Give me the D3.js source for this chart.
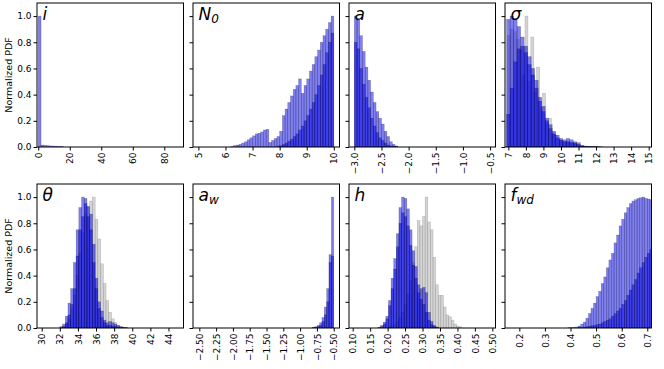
<!DOCTYPE html>
<html>
<head>
<meta charset="utf-8">
<script src="https://cdn.jsdelivr.net/npm/d3@7"></script>
<style>
body { margin: 0; background: #fff; }
text { font-family: "DejaVu Sans", sans-serif; }
</style>
</head>
<body>
<svg width="664" height="369"></svg>
<script>
// ---- data (bin start, bin width, normalized heights) ----
var yTicks = [0, 0.2, 0.4, 0.6, 0.8, 1.0];

// i
var iStart = 0, iStep = 1.76;
var iOuter = [1.0, 0.015, 0.012, 0.01, 0.008, 0.007, 0.006, 0.005, 0.004];
var iTicks = [0, 20, 40, 60, 80];

// N0
var n0Start = 6.2, n0Step = 0.1;
var n0Outer = [0.005, 0.01, 0.015, 0.02, 0.03, 0.04, 0.055, 0.07, 0.085, 0.1, 0.105, 0.115, 0.13, 0.135,
               0.035, 0.05, 0.065, 0.08, 0.12, 0.24, 0.29, 0.34, 0.39, 0.44, 0.47, 0.52,
               0.41, 0.47, 0.52, 0.58, 0.63, 0.69, 0.74, 0.8, 0.85, 0.9, 0.95, 1.0];
var n0Inner = [0, 0, 0, 0, 0, 0, 0, 0, 0, 0, 0, 0, 0, 0,
               0, 0, 0, 0.005, 0.01, 0.02, 0.03, 0.045, 0.06, 0.08, 0.1, 0.13,
               0.16, 0.2, 0.24, 0.29, 0.34, 0.4, 0.47, 0.55, 0.63, 0.72, 0.8, 0.87];
var n0Ticks = [5, 6, 7, 8, 9, 10];

// a
var aStart = -3.0, aStep = 0.05;
var aOuter = [1.0, 0.97, 0.85, 0.73, 0.61, 0.51, 0.42, 0.34, 0.27, 0.22, 0.175, 0.12, 0.08, 0.04, 0.02, 0.008];
var aInner = [0.8, 0.75, 0.6, 0.48, 0.38, 0.3, 0.22, 0.16, 0.11, 0.07, 0.05, 0.03, 0.015, 0.008, 0.004, 0.002];
var aTicks = [-3.0, -2.5, -2.0, -1.5, -1.0, -0.5];

// sigma
var sStart = 6.9, sStep = 0.2;
var sOuter = [0.975, 1.0, 0.98, 0.92, 0.84, 0.77, 0.69, 0.6, 0.51, 0.38, 0.31, 0.22, 0.17, 0.12, 0.09, 0.065,
              0.055, 0.065, 0.055, 0.04, 0.033, 0.01, 0.006, 0.004, 0.003, 0.002, 0.001];
var sInner = [0.25, 0.45, 0.65, 0.75, 0.77, 0.72, 0.63, 0.55, 0.45, 0.35, 0.27, 0.2, 0.14, 0.1, 0.07, 0.05,
              0.04, 0.04, 0.035, 0.03, 0.02, 0.008, 0.004, 0.002, 0.001, 0.001, 0];
var sGreyStart = 6.95, sGreyStep = 1 / 6;
var sGrey = [0.85, 0.9, 0.88, 0.82, 0.74, 0.55, 1.0, 0.5, 0.84, 0.42, 0.61, 0.3, 0.41, 0.18, 0.22, 0.1, 0.09, 0.06,
             0.05, 0.04, 0.04, 0.03, 0.03, 0.02, 0.015, 0.01, 0.008, 0.005, 0.004, 0.003, 0.002, 0.002, 0.001];
var sTicks = [7, 8, 9, 10, 11, 12, 13, 14, 15];

// theta
var tStart = 32.0, tStep = 0.3;
var tOuter = [0.01, 0.03, 0.09, 0.19, 0.3, 0.5, 0.75, 0.92, 1.0, 0.99, 0.93, 0.87, 0.64, 0.38, 0.2, 0.13,
              0.06, 0.04, 0.05, 0.04, 0.03, 0.02, 0.01, 0.005, 0.003];
var tInner = [0, 0.01, 0.04, 0.1, 0.18, 0.3, 0.55, 0.75, 0.85, 0.95, 0.85, 0.75, 0.5, 0.3, 0.15, 0.08,
              0.04, 0.02, 0.02, 0.015, 0.01, 0.005, 0.003, 0.001, 0];
var tGrey = [0.005, 0.01, 0.03, 0.07, 0.14, 0.25, 0.4, 0.57, 0.73, 0.87, 0.92, 0.97, 1.0, 0.83, 0.68, 0.49,
             0.34, 0.21, 0.12, 0.07, 0.04, 0.02, 0.01, 0.005, 0.003];
var tTicks = [30, 32, 34, 36, 38, 40, 42, 44];

// a_w
var awStart = -0.815, awStep = 0.035;
var awOuter = [0.004, 0.01, 0.02, 0.04, 0.08, 0.16, 0.3, 0.56, 1.0];
var awInner = [0.002, 0.005, 0.01, 0.02, 0.05, 0.1, 0.2, 0.5, 0.55];
var awTicks = [-2.5, -2.25, -2.0, -1.75, -1.5, -1.25, -1.0, -0.75, -0.5];

// h
var hStart = 0.1725, hStep = 0.0075;
var hOuter = [0.005, 0.02, 0.045, 0.09, 0.21, 0.38, 0.53, 0.72, 0.92, 1.0, 0.99, 0.91, 0.75, 0.59, 0.47, 0.33,
              0.3, 0.31, 0.27, 0.12, 0.05, 0.02, 0.008];
var hInner = [0.002, 0.01, 0.03, 0.07, 0.17, 0.3, 0.45, 0.62, 0.8, 0.88, 0.85, 0.78, 0.63, 0.48, 0.38, 0.27,
              0.22, 0.18, 0.12, 0.06, 0.025, 0.01, 0.004];
var hGreyStart = 0.2025, hGreyStep = 0.0075;
var hGrey = [0.008, 0.015, 0.03, 0.05, 0.08, 0.12, 0.18, 0.26, 0.36, 0.5, 0.62, 0.82, 0.78, 0.85, 1.0, 0.81,
             0.75, 0.54, 0.33, 0.25, 0.25, 0.16, 0.1, 0.085, 0.06, 0.03, 0.015, 0.008];
var hTicks = [0.10, 0.15, 0.20, 0.25, 0.30, 0.35, 0.40, 0.45, 0.50];

// f_wd
var fStart = 0.39, fStep = 0.01;
var fOuter = [0.002, 0.003, 0.005, 0.008, 0.015, 0.03, 0.045, 0.075, 0.11, 0.15, 0.19, 0.24, 0.28, 0.34, 0.39,
              0.46, 0.52, 0.57, 0.65, 0.71, 0.78, 0.83, 0.88, 0.92, 0.95, 0.97, 0.98, 0.99, 0.995, 1.0, 0.99, 0.985, 0.98];
var fInner = [0, 0, 0, 0, 0.002, 0.004, 0.006, 0.01, 0.013, 0.017, 0.02, 0.025, 0.03, 0.04, 0.05,
              0.06, 0.07, 0.09, 0.11, 0.13, 0.15, 0.18, 0.21, 0.25, 0.29, 0.33, 0.37, 0.42, 0.46, 0.5, 0.54, 0.57, 0.6];
var fTicks = [0.2, 0.3, 0.4, 0.5, 0.6, 0.7];

// ---- layout ----
var svg = d3.select("svg");
var colX = [37, 193, 349, 505], panelW = 146.5;
var rowY = [[3, 147], [184, 328]];

var panels = [
  { title: ["i", ""], row: 0, col: 0, domain: [-0.8, 92.2], ticks: iTicks, fmt: d3.format("d"),
    series: [{ start: iStart, step: iStep, values: iOuter, kind: "blue" }] },
  { title: ["N", "0"], row: 0, col: 1, domain: [4.8, 10.21], ticks: n0Ticks, fmt: d3.format("d"),
    series: [{ start: n0Start, step: n0Step, values: n0Outer, kind: "blue" },
             { start: n0Start, step: n0Step, values: n0Inner, kind: "blue" }] },
  { title: ["a", ""], row: 0, col: 2, domain: [-3.098, -0.4], ticks: aTicks, fmt: d3.format(".1f"),
    series: [{ start: aStart, step: aStep, values: aOuter, kind: "blue" },
             { start: aStart, step: aStep, values: aInner, kind: "blue" }] },
  { title: ["σ", ""], row: 0, col: 3, domain: [6.81, 15.16], ticks: sTicks, fmt: d3.format("d"),
    series: [{ start: sGreyStart, step: sGreyStep, values: sGrey, kind: "grey" },
             { start: sStart, step: sStep, values: sOuter, kind: "blue" },
             { start: sStart, step: sStep, values: sInner, kind: "blue" }] },
  { title: ["θ", ""], row: 1, col: 0, domain: [29.48, 45.66], ticks: tTicks, fmt: d3.format("d"),
    series: [{ start: tStart, step: tStep, values: tGrey, kind: "grey" },
             { start: tStart, step: tStep, values: tOuter, kind: "blue" },
             { start: tStart, step: tStep, values: tInner, kind: "blue" }] },
  { title: ["a", "w"], row: 1, col: 1, domain: [-2.594, -0.414], ticks: awTicks, fmt: d3.format(".2f"),
    series: [{ start: awStart, step: awStep, values: awOuter, kind: "blue" },
             { start: awStart, step: awStep, values: awInner, kind: "blue" }] },
  { title: ["h", ""], row: 1, col: 2, domain: [0.0894, 0.509], ticks: hTicks, fmt: d3.format(".2f"),
    series: [{ start: hGreyStart, step: hGreyStep, values: hGrey, kind: "grey" },
             { start: hStart, step: hStep, values: hOuter, kind: "blue" },
             { start: hStart, step: hStep, values: hInner, kind: "blue" }] },
  { title: ["f", "wd"], row: 1, col: 3, domain: [0.144, 0.7165], ticks: fTicks, fmt: d3.format(".1f"),
    series: [{ start: fStart, step: fStep, values: fOuter, kind: "blue" },
             { start: fStart, step: fStep, values: fInner, kind: "blue" }] }
];

var style = {
  blue: { fill: "#0000e0", fillOpacity: 0.5, stroke: "#000030", strokeOpacity: 0.35 },
  grey: { fill: "#bdbdbd", fillOpacity: 0.65, stroke: "#8c8c8c", strokeOpacity: 0.6 }
};

panels.forEach(function (p, k) {
  var x0 = colX[p.col], x1 = x0 + panelW;
  var top = rowY[p.row][0], bottom = rowY[p.row][1];

  var x = d3.scaleLinear().domain(p.domain).range([x0, x1]);
  var y = d3.scaleLinear().domain([0, 1.1]).range([bottom, top]);

  var g = svg.append("g");

  g.append("clipPath").attr("id", "clip" + k)
    .append("rect").attr("x", x0).attr("y", top).attr("width", panelW).attr("height", bottom - top);

  var bars = g.append("g").attr("clip-path", "url(#clip" + k + ")");

  p.series.forEach(function (s) {
    var st = style[s.kind];
    bars.append("g").selectAll("rect")
      .data(s.values)
      .enter().append("rect")
        .attr("x", function (d, i) { return x(s.start + i * s.step); })
        .attr("width", function (d, i) { return x(s.start + (i + 1) * s.step) - x(s.start + i * s.step); })
        .attr("y", function (d) { return y(d); })
        .attr("height", function (d) { return y(0) - y(d); })
        .attr("fill", st.fill)
        .attr("fill-opacity", st.fillOpacity)
        .attr("stroke", st.stroke)
        .attr("stroke-opacity", st.strokeOpacity)
        .attr("stroke-width", 0.5);
  });

  // x axis with rotated labels
  var xa = g.append("g")
    .attr("transform", "translate(0," + bottom + ")")
    .call(d3.axisBottom(x).tickValues(p.ticks).tickFormat(p.fmt).tickSize(3.5).tickSizeOuter(0));
  xa.select(".domain").remove();
  xa.selectAll("text")
    .attr("transform", "rotate(-90)")
    .attr("x", -5.5).attr("y", 0).attr("dy", "0.35em")
    .style("text-anchor", "end")
    .style("font-size", "9px")
    .style("font-family", "DejaVu Sans");

  // y axis: labels only in first column
  var ya = g.append("g")
    .attr("transform", "translate(" + x0 + ",0)")
    .call(d3.axisLeft(y).tickValues(yTicks).tickFormat(p.col === 0 ? d3.format(".1f") : "")
      .tickSize(3.5).tickSizeOuter(0));
  ya.select(".domain").remove();
  ya.selectAll("text").style("font-size", "9px").style("font-family", "DejaVu Sans").attr("x", -5.5);

  // frame
  g.append("rect")
    .attr("x", x0).attr("y", top).attr("width", panelW).attr("height", bottom - top)
    .attr("fill", "none").attr("stroke", "#000").attr("stroke-width", 1);

  // panel label
  var t = g.append("text")
    .attr("x", x0 + 5.5).attr("y", top + 16.5)
    .style("font-size", "17px").style("font-style", "italic")
    .text(p.title[0]);
  if (p.title[1]) {
    t.append("tspan").attr("dy", 3.5).style("font-size", "12px").text(p.title[1]);
  }

  if (p.col === 0) {
    svg.append("text")
      .attr("transform", "translate(12," + ((top + bottom) / 2) + ") rotate(-90)")
      .attr("text-anchor", "middle")
      .style("font-size", "9.5px")
      .text("Normalized PDF");
  }
});
</script>
</body>
</html>
